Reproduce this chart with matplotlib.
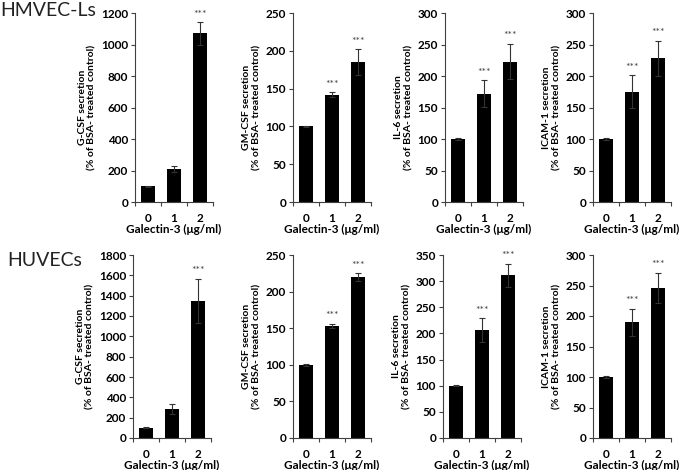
import matplotlib.pyplot as plt
import matplotlib.ticker as mticker

plt.rcParams['font.family'] = ['Lato', 'DejaVu Sans']

doses = ['0', '1', '2']
xlabel = 'Galectin-3 (\u03bcg/ml)'

# HMVEC-Ls (top row)
hmvec_gcsf = [100, 210, 1070]
hmvec_gcsf_err = [3, 18, 70]
hmvec_gmcsf = [100, 142, 185]
hmvec_gmcsf_err = [1, 3, 17]
hmvec_il6 = [100, 172, 223]
hmvec_il6_err = [1, 21, 28]
hmvec_icam = [100, 175, 228]
hmvec_icam_err = [1, 26, 28]

# HUVECs (bottom row)
huvec_gcsf = [100, 285, 1350]
huvec_gcsf_err = [5, 45, 215]
huvec_gmcsf = [100, 153, 220]
huvec_gmcsf_err = [1, 3, 5]
huvec_il6 = [100, 206, 311]
huvec_il6_err = [1, 23, 22]
huvec_icam = [100, 190, 246]
huvec_icam_err = [1, 22, 25]

names = ['G-CSF', 'GM-CSF', 'IL-6', 'ICAM-1']
top_ymax = [1200, 250, 300, 300]
top_step = [200, 50, 50, 50]
bot_ymax = [1800, 250, 350, 300]
bot_step = [200, 50, 50, 50]
top_stars = [[False, False, True], [False, True, True], [False, True, True], [False, True, True]]
bot_stars = [[False, False, True], [False, True, True], [False, True, True], [False, True, True]]

top_vals = [hmvec_gcsf, hmvec_gmcsf, hmvec_il6, hmvec_icam]
top_errs = [hmvec_gcsf_err, hmvec_gmcsf_err, hmvec_il6_err, hmvec_icam_err]
bot_vals = [huvec_gcsf, huvec_gmcsf, huvec_il6, huvec_icam]
bot_errs = [huvec_gcsf_err, huvec_gmcsf_err, huvec_il6_err, huvec_icam_err]

W, H = 683, 470
fig = plt.figure(figsize=(W / 100, H / 100), dpi=100)

top_left = [135, 293, 445, 593]
bot_left = [133, 293, 443, 593]
ax_w = 78
axis_col = '#404040'


def draw_panel(left, top, bottom, name, vals, errs, ymax, step, stars):
    ax = fig.add_axes([left / W, 1 - bottom / H, ax_w / W, (bottom - top) / H])
    x = range(len(doses))
    ax.bar(x, vals, width=0.53, color='black')
    ax.errorbar(x, vals, yerr=errs, fmt='none', ecolor='#333333',
                elinewidth=0.8, capsize=2.5, capthick=0.8)
    for i, s in enumerate(stars):
        if s:
            ax.annotate('***', (i, vals[i] + errs[i]), xytext=(0, 2.5),
                        textcoords='offset points', ha='center', va='bottom',
                        fontsize=7.5, color='#444444')
    ax.set_xlim(-0.5, 2.5)
    ax.set_ylim(0, ymax)
    ax.yaxis.set_major_locator(mticker.MultipleLocator(step))
    ax.set_xticks(list(x))
    ax.set_xticklabels(doses)
    ax.xaxis.set_minor_locator(mticker.FixedLocator([-0.5, 0.5, 1.5, 2.5]))
    ax.tick_params(axis='x', which='major', length=0, pad=8, labelsize=8.5)
    ax.tick_params(axis='x', which='minor', length=3, direction='out',
                   color=axis_col, width=0.8)
    ax.tick_params(axis='y', length=3, direction='out', color=axis_col,
                   width=0.8, labelsize=8.5, pad=2)
    for lab in ax.get_xticklabels() + ax.get_yticklabels():
        lab.set_fontweight('bold')
    for sp in ['top', 'right']:
        ax.spines[sp].set_visible(False)
    for sp in ['left', 'bottom']:
        ax.spines[sp].set_color(axis_col)
        ax.spines[sp].set_linewidth(0.8)
    ax.set_xlabel(xlabel, fontsize=8.5, fontweight='bold', labelpad=0)
    ax.set_ylabel(name + ' secretion\n(% of BSA- treated control)',
                  fontsize=7.5, fontweight='bold', labelpad=3, linespacing=1.15)
    return ax


for k in range(4):
    draw_panel(top_left[k], 13, 202, names[k], top_vals[k], top_errs[k],
               top_ymax[k], top_step[k], top_stars[k])
    draw_panel(bot_left[k], 255, 438, names[k], bot_vals[k], bot_errs[k],
               bot_ymax[k], bot_step[k], bot_stars[k])

fig.text(0 / W, 1 - 11 / H, 'HMVEC-Ls', fontsize=14, va='center', ha='left',
         color='#222222')
fig.text(7 / W, 1 - 260 / H, 'HUVECs', fontsize=14, va='center', ha='left',
         color='#222222')

fig.savefig('out.png', dpi=100)
